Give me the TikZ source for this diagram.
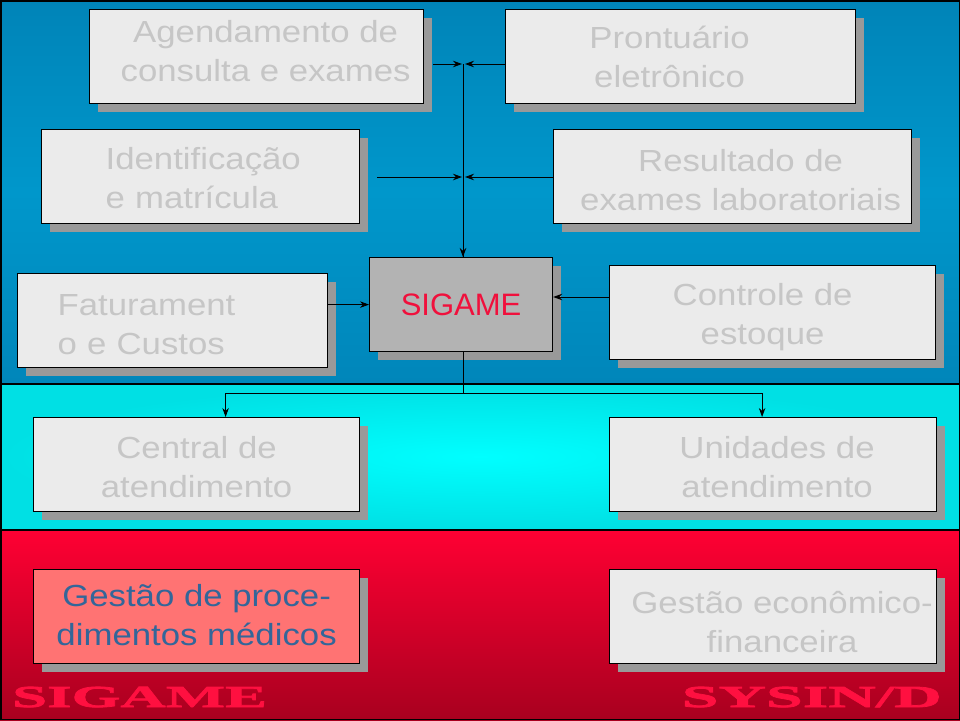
\documentclass[tikz,border=0pt]{standalone}
\usepackage{fontspec}
\setmainfont{Liberation Sans}
\newfontfamily\bxfont[FakeStretch=1.14]{Liberation Sans}
\newfontfamily\wideL[FakeStretch=2.06,FakeBold=2.5]{Liberation Serif}
\newfontfamily\wideR[FakeStretch=2.16,FakeBold=2.5]{Liberation Serif}
\usetikzlibrary{arrows.meta,shadows}
\definecolor{bandbluetop}{HTML}{0084B8}
\definecolor{bandblue}{HTML}{0097CB}
\definecolor{bandbluebot}{HTML}{0086BA}
\definecolor{bandcyan}{HTML}{00FFFF}
\definecolor{bandcyanedge}{HTML}{00E0E4}
\definecolor{bandredtop}{HTML}{FF0033}
\definecolor{bandredbot}{HTML}{A8001F}
\definecolor{boxfill}{HTML}{EBEBEB}
\definecolor{boxtext}{HTML}{C6C6C6}
\definecolor{shadowgray}{HTML}{999999}
\definecolor{sigfill}{HTML}{B3B3B3}
\definecolor{sigred}{HTML}{F0103C}
\definecolor{salmon}{HTML}{FF7373}
\definecolor{procblue}{HTML}{336699}
\definecolor{labelred}{HTML}{FF1040}
\newcommand\mvtext[3]{\raisebox{#1}[\height][\depth]{\begin{tabular}{@{}#2@{}}#3\end{tabular}}}
\tikzset{
  box/.style={draw=black, line width=1.2pt, fill=boxfill, inner sep=0pt,
    anchor=north west, font=\bxfont\fontsize{30.5}{39}\selectfont, text=boxtext,
    align=center,
    general shadow={fill=shadowgray, shadow xshift=8pt, shadow yshift=-8pt}},
  arr/.style={-{Stealth[length=9pt,width=6.5pt]}, line width=0.9pt, draw=black},
  conn/.style={line width=0.9pt, draw=black},
  sep/.style={line width=2pt, draw=black},
  biglabel/.style={text=labelred, inner sep=0pt, font=\fontsize{30.5}{30}\selectfont}
}
\begin{document}
\begin{tikzpicture}[x=1pt,y=-1pt]
\useasboundingbox (0,0) rectangle (960,720);
% bands
\shade[top color=bandbluetop, bottom color=bandbluebot, middle color=bandblue] (0,0) rectangle (960,383.5);
\shade[inner color=bandcyan, outer color=bandcyanedge] (0,383.5) rectangle (960,529.5);
\shade[top color=bandredtop, bottom color=bandredbot] (0,529.5) rectangle (960,720);
\draw[sep] (0,383.5) -- (960,383.5);
\draw[sep] (0,529.5) -- (960,529.5);
\draw[line width=1.5pt] (0.75,0.75) rectangle (959.25,719.25);

% boxes
\node[box, minimum width=334pt, minimum height=94pt] (ag) at (89,9) {\mvtext{2pt}{c}{\hspace*{18pt}Agendamento de\\\hspace*{18pt}consulta e exames}};
\node[box, minimum width=350pt, minimum height=94pt] (pr) at (505,9) {\mvtext{-4pt}{c}{Prontuário\hspace*{22pt}\\eletrônico\hspace*{22pt}}};
\node[box, minimum width=318pt, minimum height=94pt, align=left, inner xsep=64pt, text width=190pt] (id) at (41,129) {\mvtext{-5pt}{l}{Identificação\\e matrícula}};
\node[box, minimum width=358pt, minimum height=94pt] (re) at (553,129) {\mvtext{-7pt}{c}{\hspace*{16pt}Resultado de\\\hspace*{16pt}exames laboratoriais}};
\node[box, minimum width=310pt, minimum height=94pt, align=left, inner xsep=40pt, text width=230pt] (fa) at (17,273) {\mvtext{-7pt}{l}{Faturament\\o e Custos}};
\node[box, minimum width=183pt, minimum height=94pt, fill=sigfill, text=sigred, font=\fontsize{31}{38}\selectfont] (sig) at (369,257) {SIGAME};
\node[box, minimum width=326pt, minimum height=94pt] (ct) at (609,265) {\mvtext{-5pt}{c}{Controle de\hspace*{20pt}\\estoque\hspace*{20pt}}};
\node[box, minimum width=326pt, minimum height=94pt] (ce) at (33,417) {\mvtext{-6pt}{c}{Central de\\atendimento}};
\node[box, minimum width=327pt, minimum height=94pt] (un) at (609,417) {\mvtext{-6pt}{c}{\hspace*{8pt}Unidades de\\\hspace*{8pt}atendimento}};
\node[box, minimum width=326pt, minimum height=94pt, fill=salmon, text=procblue] (gp) at (33,569) {\mvtext{-2pt}{c}{Gestão de proce-\\dimentos médicos}};
\node[box, minimum width=327pt, minimum height=94pt] (ge) at (609,569) {\mvtext{-9pt}{c}{\hspace*{18pt}Gestão econômico-\\\hspace*{18pt}financeira}};

% junctions
\coordinate (j1) at (463,64);
\coordinate (j2) at (463,177);
\coordinate (jb) at (463,393);
\coordinate (ctin) at (609,297);

% connectors into the vertical bus
\draw[conn] (j1) -- (j1 |- sig.north);
\draw[arr] (j1 |- sig.north) ++(0,-20) -- (j1 |- sig.north);
\draw[arr] ([xshift=9pt]ag.east |- j1) -- ([xshift=-1pt]j1);
\draw[arr] (pr.west |- j1) -- ([xshift=2pt]j1);
\draw[arr] ([xshift=17pt]id.east |- j2) -- ([xshift=-1pt]j2);
\draw[arr] (re.west |- j2) -- ([xshift=2pt]j2);
\draw[arr] (fa.east |- sig.west) -- (sig.west);
\draw[arr] (ctin) -- (sig.east |- ctin);

% SIGAME to the lower boxes
\draw[conn] (sig.south -| jb) -- (jb);
\draw[arr] (jb) -| ([xshift=29pt]ce.north);
\draw[arr] (jb) -| ([xshift=-11pt]un.north);

% bottom labels
\node[biglabel, anchor=base west] (lblL) at (12,707) {\wideL\bfseries SIGAME};
\node[biglabel, anchor=base east] (lblR) at (942,707) {\wideR\bfseries SYSIN/D};
\end{tikzpicture}
\end{document}
